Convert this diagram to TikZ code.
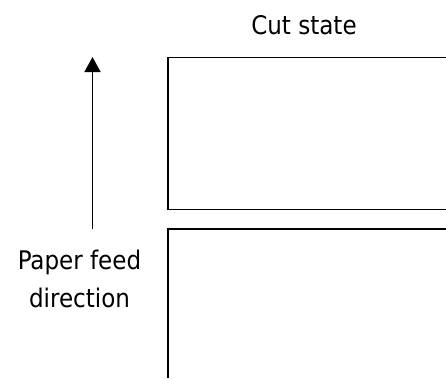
\documentclass[tikz,border=0pt]{standalone}
\usepackage{fontspec}
\setmainfont{DejaVu Sans Condensed}
\usetikzlibrary{arrows.meta}
\tikzset{
  paper/.style={line width=1.8pt, draw=black},
  feedarrow/.style={line width=1.5pt, -{Triangle[length=15pt,width=16pt]}},
  lbl/.style={font=\fontsize{25.6}{30}\selectfont, inner sep=0pt, anchor=base}
}
\begin{document}
\begin{tikzpicture}[x=1pt,y=1pt]
\useasboundingbox (0,0) rectangle (446,-378);
% paper pieces
\draw[paper] (446,-57.5) -- (168,-57.5) -- (168,-209.5) -- (446,-209.5);
\draw[paper] (446,-229) -- (168,-229) -- (168,-378);
% arrow
\coordinate (tail) at (92.5,-229);
\coordinate (tip) at (92.5,-57);
\draw[feedarrow] (tail) -- (tip);
% labels
\node[lbl] (title) at (304,-34) {Cut state};
\node[lbl] (feed1) at (79.5,-269) {Paper feed};
\node[lbl] (feed2) at (79.5,-307) {direction};
\end{tikzpicture}
\end{document}
